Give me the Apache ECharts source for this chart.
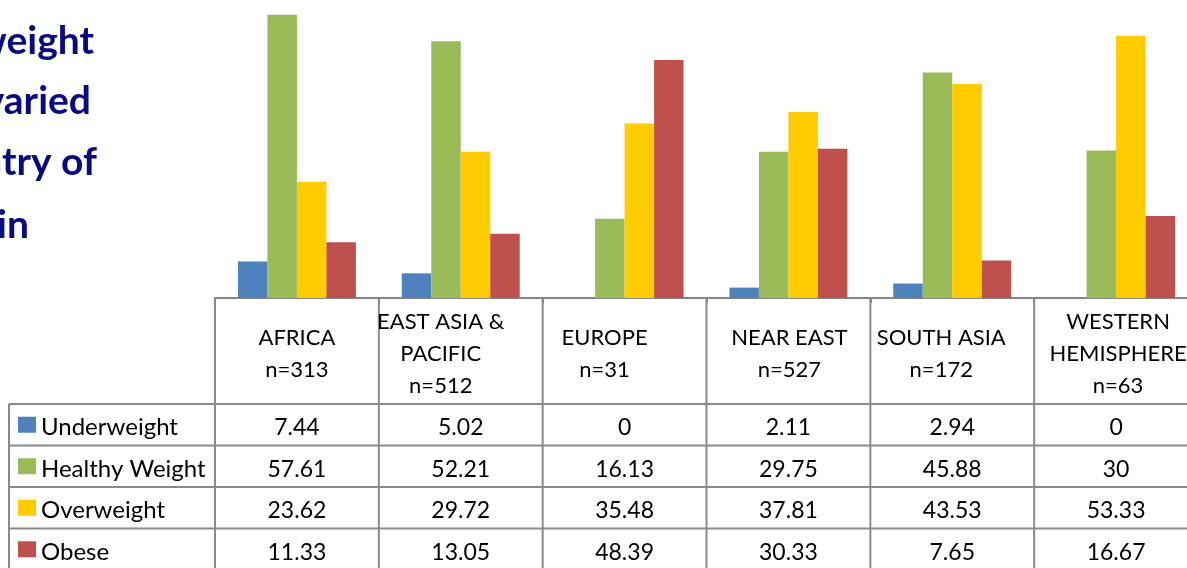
<!DOCTYPE html>
<html>
<head>
<meta charset="utf-8">
<style>
  html, body { margin: 0; padding: 0; background: #ffffff; }
  #chart { width: 1187px; height: 568px; }
</style>
<script src="https://cdn.jsdelivr.net/npm/echarts@6/dist/echarts.min.js"></script>
</head>
<body>
<div id="chart"></div>
<script>
// Regions of origin and their sample sizes
const regions = ['AFRICA', 'EAST ASIA &\nPACIFIC', 'EUROPE', 'NEAR EAST', 'SOUTH ASIA', 'WESTERN\nHEMISPHERE'];
const sampleSizes = [313, 512, 31, 527, 172, 63];

// Weight status categories (percent of each region)
const seriesNames = ['Underweight', 'Healthy Weight', 'Overweight', 'Obese'];
const underweight = [7.44, 5.02, 0, 2.11, 2.94, 0];
const healthyWeight = [57.61, 52.21, 16.13, 29.75, 45.88, 30];
const overweight = [23.62, 29.72, 35.48, 37.81, 43.53, 53.33];
const obese = [11.33, 13.05, 48.39, 30.33, 7.65, 16.67];

// Title lines
const titleLines = ['Distribution of weight', 'status varied', 'by country of', 'origin'];

// ---- styling / layout ----
const seriesValues = [underweight, healthyWeight, overweight, obese];
const colors = ['#4f81bd', '#9bbb59', '#ffcc00', '#c0504d'];
const lineColor = '#8a8a8a';
const FONT = 'Lato, "Open Sans", sans-serif';
const headerShift = [0, -20, -20, 1, -11, 2];   // horizontal nudge of each header label
const titleRight = [94, 91, 97, 29];
const titleMid = [41, 101, 162, 225];

const chart = echarts.init(document.getElementById('chart'), null, { renderer: 'canvas' });

// header labels: three-line labels start at the top, two-line ones are pushed down half a line
const axisData = regions.map((r, i) => {
  const s = headerShift[i];
  const lines = r.split('\n').length + 1;
  return {
    value: r + '\nn=' + sampleSizes[i],
    textStyle: { padding: [lines === 2 ? 16 : 0, s < 0 ? -2 * s : 0, 0, s > 0 ? 2 * s : 0] }
  };
});

chart.setOption({
  animation: false,
  backgroundColor: '#ffffff',
  grid: { left: 215, right: -11, top: 0, bottom: 270, outerBoundsMode: 'none', containLabel: false },
  xAxis: {
    type: 'category',
    data: axisData,
    axisLine: { lineStyle: { color: '#868686', width: 2 } },
    axisTick: { show: true, length: 5, lineStyle: { color: '#868686', width: 2 } },
    axisLabel: {
      interval: 0,
      margin: 8,
      verticalAlign: 'top',
      align: 'center',
      lineHeight: 32,
      fontSize: 22,
      fontFamily: FONT,
      color: '#000000'
    }
  },
  yAxis: {
    type: 'value',
    min: 0,
    max: 60.6,
    show: false,
    splitLine: { show: false }
  },
  series: seriesNames.map((name, k) => ({
    name: name,
    type: 'bar',
    data: seriesValues[k],
    barGap: '0%',
    barCategoryGap: '28%',
    itemStyle: { color: colors[k] }
  }))
});

// Data table beneath the axis, columns taken from the category axis
function buildTable() {
  const centers = regions.map((_, i) => chart.convertToPixel({ xAxisIndex: 0 }, i));
  const band = centers[1] - centers[0];
  const bounds = [centers[0] - band / 2].concat(centers.map(c => c + band / 2));
  const axisY = chart.convertToPixel({ yAxisIndex: 0 }, 0);
  const tableLeft = 9;
  const rowTop = 404;
  const rowH = 41.5;
  const tableBottom = rowTop + rowH * seriesNames.length + 2;
  const right = bounds[bounds.length - 1];
  const g = [];
  const line = (x1, y1, x2, y2) => g.push({
    type: 'line', silent: true,
    shape: { x1, y1, x2, y2 },
    style: { stroke: lineColor, lineWidth: 2 }
  });

  // vertical borders of the header band
  bounds.forEach(x => line(x, axisY, x, rowTop));
  // vertical borders of the body
  line(tableLeft, rowTop, tableLeft, tableBottom);
  bounds.forEach(x => line(x, rowTop, x, tableBottom));
  // horizontal borders
  for (let r = 0; r <= seriesNames.length; r++) {
    const y = rowTop + r * rowH;
    line(tableLeft, y, right, y);
  }

  seriesNames.forEach((name, r) => {
    const cy = rowTop + r * rowH + rowH / 2;
    g.push({
      type: 'rect', silent: true,
      shape: { x: 18, y: cy - 8, width: 18, height: 16 },
      style: { fill: colors[r] }
    });
    g.push({
      type: 'text', silent: true, x: 41, y: cy + 3,
      style: { text: name, font: '24px ' + FONT, fill: '#000000', align: 'left', verticalAlign: 'middle' }
    });
    seriesValues[r].forEach((v, i) => {
      g.push({
        type: 'text', silent: true, x: centers[i], y: cy + 3,
        style: { text: String(v), font: '23px ' + FONT, fill: '#000000', align: 'center', verticalAlign: 'middle' }
      });
    });
  });

  titleLines.forEach((t, i) => {
    g.push({
      type: 'text', silent: true, x: titleRight[i], y: titleMid[i],
      style: { text: t, font: 'bold 39px ' + FONT, fill: '#0a0a82', align: 'right', verticalAlign: 'middle' }
    });
  });

  chart.setOption({ graphic: { elements: g } });
}
buildTable();
</script>
</body>
</html>
